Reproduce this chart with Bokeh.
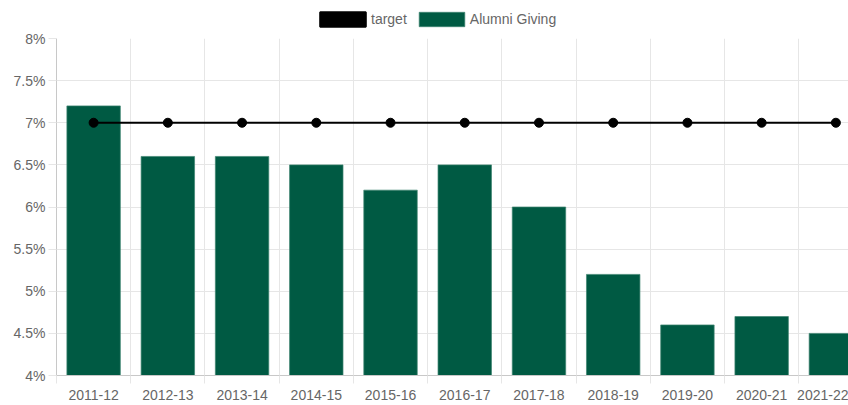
from bokeh.plotting import figure
from bokeh.layouts import column
from bokeh.models import Range1d, FixedTicker, Legend, LegendItem, ColumnDataSource
from bokeh.embed import file_html
from bokeh.resources import INLINE

categories = ["2011-12", "2012-13", "2013-14", "2014-15", "2015-16", "2016-17",
              "2017-18", "2018-19", "2019-20", "2020-21", "2021-22"]
alumni_giving = [7.2, 6.6, 6.6, 6.5, 6.2, 6.5, 6.0, 5.2, 4.6, 4.7, 4.5]
target = [7, 7, 7, 7, 7, 7, 7, 7, 7, 7, 7]
y_ticks = [4, 4.5, 5, 5.5, 6, 6.5, 7, 7.5, 8]
y_tick_labels = ["4%", "4.5%", "5%", "5.5%", "6%", "6.5%", "7%", "7.5%", "8%"]

GREEN = "#005A43"
BAR_EDGE = "#3f8470"
GRID = "#e6e6e6"
AXIS = "#c8c8c8"
TEXT = "#666666"
FONT = "Liberation Sans"

idx = list(range(len(categories)))
bounds = [i - 0.5 for i in idx] + [idx[-1] + 0.5]
src = ColumnDataSource(dict(x=idx, cat=categories, giving=alumni_giving, target=target))

# ---------- legend strip (its own small figure above the chart) ----------
lf = figure(width=848, height=30, x_range=Range1d(-0.5, 10.17), y_range=Range1d(100, 101),
            output_backend="svg", toolbar_location=None,
            x_axis_location=None, y_axis_location=None,
            min_border_left=0, min_border_right=0, min_border_top=0, min_border_bottom=0)
lf.outline_line_color = None
lf.grid.visible = False
leg_target = lf.vbar(x="x", top="target", bottom="target", width=0.0, source=src,
                     fill_color="black", line_color="black", line_width=2)
leg_bars = lf.vbar(x="x", top="giving", bottom=y_ticks[0], width=0.72, source=src,
                   fill_color=GREEN, line_color=BAR_EDGE, line_width=1, line_alpha=0.7)
legend = Legend(items=[LegendItem(label="target", renderers=[leg_target]),
                       LegendItem(label="Alumni Giving", renderers=[leg_bars])],
                orientation="horizontal", location=(258, 2),
                glyph_width=57, glyph_height=18, label_height=18, label_width=20,
                label_standoff=0, spacing=6,
                padding=0, margin=0, border_line_color=None, background_fill_alpha=0,
                label_text_font=FONT, label_text_font_size="14px", label_text_color=TEXT)
lf.add_layout(legend)

# ---------- main chart ----------
p = figure(width=848, height=375,
           x_range=Range1d(-0.5, 10.17), y_range=Range1d(y_ticks[0], y_ticks[-1]),
           output_backend="svg", toolbar_location=None,
           min_border_left=56, min_border_right=0, min_border_top=8, min_border_bottom=30)
p.outline_line_color = None

bars = p.vbar(x="x", top="giving", bottom=y_ticks[0], width=0.72, source=src,
              fill_color=GREEN, line_color=BAR_EDGE, line_width=1, line_alpha=0.7)
p.line("x", "target", source=src, line_color="black", line_width=2)
p.scatter("x", "target", source=src, size=9, fill_color="black", line_color="black")

p.xaxis.ticker = FixedTicker(ticks=idx, minor_ticks=bounds)
p.xaxis.major_label_overrides = {i: c for i, c in zip(idx, categories)}
p.xaxis.major_tick_out = 8
p.xaxis.major_tick_in = 0
p.xaxis.major_tick_line_color = None
p.xaxis.minor_tick_out = 8
p.xaxis.minor_tick_in = 0
p.xaxis.minor_tick_line_color = GRID
p.xaxis.axis_line_color = AXIS
p.xaxis.major_label_standoff = 6

p.yaxis.ticker = FixedTicker(ticks=y_ticks)
p.yaxis.major_label_overrides = {t: l for t, l in zip(y_ticks, y_tick_labels)}
p.yaxis.major_tick_out = 8
p.yaxis.major_tick_in = 0
p.yaxis.major_tick_line_color = GRID
p.yaxis.minor_tick_line_color = None
p.yaxis.axis_line_color = AXIS
p.yaxis.major_label_standoff = 3

for ax in (p.xaxis[0], p.yaxis[0]):
    ax.major_label_text_font = FONT
    ax.major_label_text_font_size = "14px"
    ax.major_label_text_color = TEXT

p.xgrid.ticker = FixedTicker(ticks=bounds)
p.xgrid.grid_line_color = GRID
p.ygrid.ticker = FixedTicker(ticks=y_ticks)
p.ygrid.grid_line_color = GRID

layout = column(lf, p, spacing=0)
open("out.html", "w").write(file_html(layout, INLINE))
